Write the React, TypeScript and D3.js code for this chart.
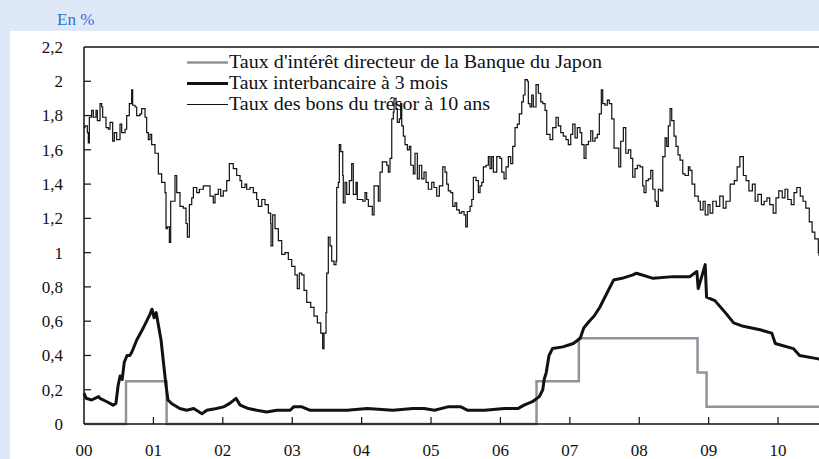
import React from 'react';
import * as d3 from 'd3';

// years are offsets from 2000, values in %
const policyRate: [number, number][] = [
  [0.0, 0], [0.605, 0.25], [1.19, 0], [6.52, 0.25], [7.13, 0.5], [8.84, 0.3], [8.97, 0.1], [10.59, 0.1],
];

const interbank3m: [number, number][] = [
  [0.0, 0.18], [0.03, 0.15], [0.11, 0.14], [0.21, 0.16], [0.23, 0.15], [0.33, 0.13], [0.42, 0.11], [0.46, 0.12],
  [0.49, 0.22], [0.52, 0.28], [0.55, 0.26], [0.58, 0.36], [0.62, 0.4], [0.66, 0.4], [0.69, 0.42], [0.76, 0.49],
  [0.84, 0.55], [0.89, 0.59], [0.95, 0.64], [0.98, 0.67], [1.01, 0.62], [1.04, 0.65], [1.07, 0.58], [1.11, 0.49],
  [1.15, 0.34], [1.18, 0.23], [1.21, 0.14], [1.26, 0.12], [1.38, 0.09], [1.48, 0.08], [1.58, 0.09], [1.7, 0.06],
  [1.77, 0.08], [1.91, 0.09], [2.01, 0.1], [2.1, 0.12], [2.19, 0.15], [2.25, 0.11], [2.37, 0.09], [2.49, 0.08],
  [2.63, 0.07], [2.78, 0.08], [2.97, 0.08], [3.02, 0.1], [3.14, 0.1], [3.26, 0.08], [3.5, 0.08], [3.79, 0.08],
  [4.08, 0.09], [4.45, 0.08], [4.74, 0.09], [4.9, 0.09], [5.05, 0.08], [5.24, 0.1], [5.43, 0.1], [5.53, 0.08],
  [5.77, 0.08], [6.06, 0.09], [6.25, 0.09], [6.34, 0.11], [6.46, 0.13], [6.56, 0.16], [6.61, 0.2], [6.63, 0.26],
  [6.66, 0.3], [6.7, 0.4], [6.75, 0.44], [6.9, 0.45], [7.05, 0.47], [7.15, 0.5], [7.2, 0.56], [7.28, 0.6],
  [7.35, 0.63], [7.43, 0.68], [7.53, 0.76], [7.63, 0.84], [7.75, 0.85], [7.91, 0.87], [7.96, 0.88], [8.2, 0.85],
  [8.49, 0.86], [8.73, 0.86], [8.83, 0.89], [8.85, 0.79], [8.95, 0.93], [8.97, 0.74], [9.09, 0.72], [9.24, 0.65],
  [9.36, 0.59], [9.5, 0.57], [9.74, 0.55], [9.91, 0.53], [9.96, 0.47], [10.22, 0.44], [10.31, 0.4], [10.58, 0.38],
  [10.59, 0.38],
];

const jgb10y: [number, number][] = [
  [0.0, 1.73], [0.014, 1.74], [0.048, 1.7], [0.062, 1.64], [0.077, 1.79], [0.11, 1.83], [0.134, 1.79], [0.173, 1.83],
  [0.192, 1.77], [0.231, 1.87], [0.255, 1.85], [0.269, 1.79], [0.317, 1.73], [0.351, 1.72], [0.375, 1.76], [0.413, 1.65],
  [0.437, 1.7], [0.471, 1.66], [0.519, 1.75], [0.543, 1.7], [0.591, 1.72], [0.615, 1.8], [0.653, 1.87], [0.687, 1.95],
  [0.701, 1.86], [0.735, 1.85], [0.759, 1.8], [0.807, 1.81], [0.831, 1.84], [0.879, 1.79], [0.903, 1.7], [0.927, 1.66],
  [0.951, 1.69], [0.975, 1.63], [1.023, 1.58], [1.071, 1.46], [1.119, 1.41], [1.167, 1.35], [1.182, 1.14], [1.201, 1.15],
  [1.23, 1.06], [1.249, 1.3], [1.287, 1.3], [1.311, 1.45], [1.336, 1.35], [1.383, 1.27], [1.431, 1.26], [1.47, 1.17],
  [1.489, 1.09], [1.518, 1.28], [1.552, 1.32], [1.576, 1.38], [1.624, 1.35], [1.662, 1.37], [1.719, 1.39], [1.791, 1.39],
  [1.816, 1.33], [1.863, 1.29], [1.888, 1.34], [1.935, 1.37], [1.97, 1.33], [2.007, 1.36], [2.056, 1.42], [2.094, 1.52],
  [2.128, 1.52], [2.151, 1.49], [2.2, 1.45], [2.248, 1.42], [2.272, 1.38], [2.32, 1.4], [2.344, 1.37], [2.392, 1.38],
  [2.44, 1.35], [2.488, 1.31], [2.512, 1.27], [2.561, 1.31], [2.608, 1.28], [2.656, 1.23], [2.69, 1.17], [2.695, 1.04],
  [2.719, 1.22], [2.752, 1.14], [2.8, 1.07], [2.849, 0.99], [2.896, 1.0], [2.944, 0.96], [2.993, 0.92], [3.04, 0.87],
  [3.073, 0.79], [3.102, 0.88], [3.137, 0.87], [3.17, 0.78], [3.209, 0.71], [3.267, 0.68], [3.314, 0.63], [3.362, 0.59],
  [3.411, 0.53], [3.439, 0.44], [3.458, 0.53], [3.487, 0.65], [3.497, 0.88], [3.52, 1.09], [3.545, 1.04], [3.569, 0.95],
  [3.602, 0.93], [3.631, 0.95], [3.641, 1.38], [3.664, 1.41], [3.679, 1.63], [3.699, 1.59], [3.728, 1.45], [3.736, 1.29],
  [3.761, 1.41], [3.785, 1.34], [3.823, 1.42], [3.857, 1.52], [3.88, 1.34], [3.919, 1.41], [3.938, 1.31], [3.977, 1.31],
  [4.016, 1.3], [4.049, 1.35], [4.073, 1.31], [4.097, 1.27], [4.121, 1.27], [4.154, 1.22], [4.179, 1.39], [4.218, 1.39],
  [4.241, 1.3], [4.265, 1.47], [4.298, 1.53], [4.337, 1.53], [4.362, 1.51], [4.385, 1.47], [4.409, 1.55], [4.434, 1.78],
  [4.457, 1.82], [4.467, 1.9], [4.496, 1.84], [4.514, 1.76], [4.543, 1.78], [4.563, 1.87], [4.578, 1.74], [4.601, 1.68],
  [4.625, 1.63], [4.659, 1.6], [4.687, 1.62], [4.708, 1.51], [4.745, 1.46], [4.769, 1.58], [4.803, 1.43], [4.831, 1.51],
  [4.866, 1.43], [4.899, 1.47], [4.928, 1.41], [4.961, 1.37], [5.01, 1.41], [5.043, 1.38], [5.082, 1.33], [5.12, 1.39],
  [5.169, 1.5], [5.202, 1.47], [5.226, 1.4], [5.249, 1.36], [5.284, 1.35], [5.313, 1.27], [5.346, 1.29], [5.37, 1.25],
  [5.408, 1.23], [5.442, 1.24], [5.476, 1.22], [5.5, 1.15], [5.523, 1.24], [5.562, 1.27], [5.587, 1.31], [5.61, 1.44],
  [5.648, 1.42], [5.682, 1.35], [5.706, 1.39], [5.731, 1.41], [5.754, 1.5], [5.793, 1.51], [5.826, 1.56], [5.85, 1.49],
  [5.874, 1.56], [5.898, 1.47], [5.947, 1.56], [5.994, 1.55], [6.019, 1.47], [6.052, 1.43], [6.081, 1.5], [6.114, 1.56],
  [6.148, 1.52], [6.177, 1.62], [6.21, 1.73], [6.244, 1.75], [6.272, 1.81], [6.307, 1.88], [6.33, 1.92], [6.354, 2.01],
  [6.388, 2.0], [6.402, 1.87], [6.427, 1.85], [6.451, 1.92], [6.474, 1.85], [6.513, 1.98], [6.546, 1.93], [6.581, 1.88],
  [6.609, 1.87], [6.643, 1.83], [6.667, 1.69], [6.715, 1.66], [6.754, 1.73], [6.801, 1.79], [6.834, 1.74], [6.869, 1.7],
  [6.906, 1.68], [6.945, 1.66], [6.978, 1.63], [7.013, 1.69], [7.042, 1.75], [7.075, 1.67], [7.108, 1.73], [7.147, 1.7],
  [7.171, 1.63], [7.205, 1.55], [7.233, 1.63], [7.267, 1.65], [7.301, 1.71], [7.33, 1.65], [7.363, 1.67], [7.396, 1.69],
  [7.425, 1.81], [7.454, 1.95], [7.474, 1.87], [7.507, 1.86], [7.54, 1.89], [7.569, 1.87], [7.604, 1.78], [7.637, 1.61],
  [7.676, 1.61], [7.705, 1.5], [7.733, 1.65], [7.771, 1.73], [7.806, 1.58], [7.843, 1.6], [7.878, 1.55], [7.906, 1.44],
  [7.939, 1.49], [7.973, 1.51], [8.012, 1.5], [8.05, 1.39], [8.069, 1.35], [8.098, 1.42], [8.131, 1.43], [8.166, 1.48],
  [8.195, 1.37], [8.228, 1.3], [8.252, 1.27], [8.275, 1.37], [8.31, 1.36], [8.339, 1.56], [8.372, 1.67], [8.396, 1.62],
  [8.419, 1.74], [8.444, 1.84], [8.468, 1.77], [8.501, 1.68], [8.53, 1.62], [8.559, 1.57], [8.588, 1.54], [8.627, 1.46],
  [8.66, 1.45], [8.708, 1.5], [8.73, 1.48], [8.76, 1.4], [8.8, 1.33], [8.85, 1.3], [8.88, 1.25], [8.92, 1.3],
  [8.95, 1.22], [8.99, 1.28], [9.02, 1.23], [9.06, 1.3], [9.11, 1.27], [9.16, 1.33], [9.21, 1.26], [9.25, 1.3],
  [9.31, 1.4], [9.37, 1.42], [9.41, 1.5], [9.45, 1.56], [9.5, 1.45], [9.54, 1.42], [9.58, 1.36], [9.63, 1.4],
  [9.67, 1.3], [9.71, 1.34], [9.76, 1.28], [9.8, 1.3], [9.84, 1.32], [9.88, 1.28], [9.93, 1.23], [9.97, 1.32],
  [10.01, 1.36], [10.06, 1.32], [10.1, 1.37], [10.14, 1.31], [10.19, 1.28], [10.23, 1.35], [10.27, 1.38], [10.32, 1.33],
  [10.36, 1.3], [10.4, 1.26], [10.45, 1.18], [10.49, 1.12], [10.53, 1.08], [10.58, 1.0], [10.59, 0.98],
];

const yTicks = [0, 0.2, 0.4, 0.6, 0.8, 1, 1.2, 1.4, 1.6, 1.8, 2, 2.2];
const yearTicks = [0, 1, 2, 3, 4, 5, 6, 7, 8, 9, 10];
const legendLabels = [
  "Taux d'intérêt directeur de la Banque du Japon",
  'Taux interbancaire à 3 mois',
  'Taux des bons du trésor à 10 ans',
];

const W = 819;
const H = 459;
const serif = { fontFamily: "'Liberation Serif', 'DejaVu Serif', serif" };

export default function App() {
  const x = d3.scaleLinear().domain([0, 10.59]).range([84, 819]);
  const y = d3.scaleLinear().domain([0, 2.2]).range([424, 47]);

  const stepLine = d3.line<[number, number]>()
    .x(d => x(d[0]))
    .y(d => y(d[1]))
    .curve(d3.curveStepAfter);
  const plainLine = d3.line<[number, number]>()
    .x(d => x(d[0]))
    .y(d => y(d[1]));

  const fmtY = (v: number) => String(Math.round(v * 10) / 10).replace('.', ',');
  const fmtYear = (v: number) => String(v).padStart(2, '0');

  // the original face (a Garamond) runs wider than Liberation Serif
  const legendStyles = [
    { stroke: '#8d959c', width: 2.5, textWidth: 373 },
    { stroke: '#111', width: 3, textWidth: 219 },
    { stroke: '#111', width: 1.2, textWidth: 261 },
  ];

  return (
    <div style={{ position: 'absolute', left: 0, top: 0 }}>
      <svg width={W} height={H} style={{ display: 'block' }}>
        <rect x={0} y={0} width={W} height={H} fill="#dee8f6" />
        <rect x={10} y={31} width={W - 10} height={H - 31} fill="#fff" />
        <text x={57} y={25} style={serif} fontSize={17} fill="#2f6fd6">En %</text>

        {/* series */}
        <path d={stepLine(policyRate) || ''} fill="none" stroke="#8d959c" strokeWidth={2.5} />
        <path d={plainLine(interbank3m) || ''} fill="none" stroke="#111" strokeWidth={3} strokeLinejoin="round" />
        <path d={stepLine(jgb10y) || ''} fill="none" stroke="#111" strokeWidth={1.2} />

        {/* axes */}
        <line x1={84} x2={W} y1={y(2.2)} y2={y(2.2)} stroke="#111" strokeWidth={1.5} />
        <line x1={84} x2={84} y1={y(2.2)} y2={y(0)} stroke="#111" strokeWidth={1.5} />
        <line x1={84} x2={W} y1={y(0)} y2={y(0)} stroke="#111" strokeWidth={1.5} />
        {yTicks.map(t => (
          <g key={t}>
            {t > 0 && t < 2.2 && <line x1={84} x2={91} y1={y(t)} y2={y(t)} stroke="#111" strokeWidth={1.2} />}
            <text x={63} y={y(t)} dy="0.35em" textAnchor="end" style={serif} fontSize={17} fill="#111">{fmtY(t)}</text>
          </g>
        ))}
        {yearTicks.map(t => (
          <g key={t}>
            {t > 0 && <line x1={x(t)} x2={x(t)} y1={y(0)} y2={y(0) - 7} stroke="#111" strokeWidth={1.2} />}
            <text x={x(t)} y={456} textAnchor="middle" style={serif} fontSize={17} fill="#111">{fmtYear(t)}</text>
          </g>
        ))}

        {/* legend */}
        {legendLabels.map((label, i) => (
          <g key={label} transform={`translate(187, ${62.5 + i * 21})`}>
            <line x1={0} x2={41} y1={0} y2={0} stroke={legendStyles[i].stroke} strokeWidth={legendStyles[i].width} />
            <text x={42} y={5} style={serif} fontSize={18} fill="#111"
              textLength={legendStyles[i].textWidth} lengthAdjust="spacingAndGlyphs">{label}</text>
          </g>
        ))}
      </svg>
    </div>
  );
}
